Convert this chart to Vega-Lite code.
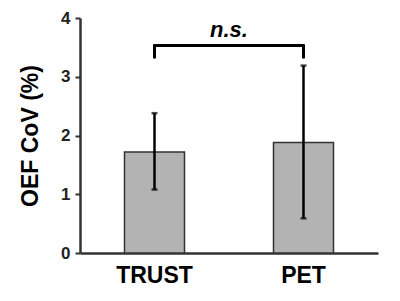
{
  "$schema": "https://vega.github.io/schema/vega-lite/v6.json",
  "autosize": {"type": "none"},
  "padding": {"left": 80, "top": 18, "right": 22, "bottom": 48},
  "width": 298,
  "height": 235,
  "background": "white",
  "config": {
    "view": {"stroke": null},
    "font": "Liberation Sans"
  },
  "datasets": {
    "bars": [
      {"group": "TRUST", "mean": 1.72, "lo": 1.08, "hi": 2.38},
      {"group": "PET", "mean": 1.88, "lo": 0.59, "hi": 3.19}
    ],
    "bracketH": [
      {"from": "TRUST", "to": "PET", "y": 3.53}
    ],
    "bracketV": [
      {"group": "TRUST", "y": 3.33, "y2": 3.53},
      {"group": "PET", "y": 3.33, "y2": 3.53}
    ],
    "label": [
      {"group": "TRUST", "y": 3.67, "text": "n.s."}
    ]
  },
  "layer": [
    {
      "data": {"name": "bars"},
      "mark": {"type": "bar", "size": 60, "color": "#b3b3b3", "stroke": "#333333", "strokeWidth": 1.5},
      "encoding": {
        "x": {
          "field": "group", "type": "nominal",
          "scale": {"domain": ["TRUST", "PET"], "paddingInner": 0, "paddingOuter": 0},
          "axis": {
            "title": null, "labelAngle": 0, "ticks": false,
            "domainColor": "#333333", "domainWidth": 2.5,
            "labelFont": "Liberation Sans", "labelFontWeight": "bold", "labelFontSize": 23,
            "labelColor": "black", "labelPadding": 11
          }
        },
        "y": {
          "field": "mean", "type": "quantitative",
          "scale": {"domain": [0, 4], "nice": false},
          "axis": {
            "title": "OEF CoV (%)", "values": [0, 1, 2, 3, 4], "format": "d", "grid": false,
            "tickSize": 5, "tickWidth": 2, "tickColor": "#333333",
            "domainColor": "#333333", "domainWidth": 2.5,
            "labelFont": "Liberation Sans", "labelFontWeight": "bold", "labelFontSize": 17,
            "labelColor": "#222222", "labelPadding": 5,
            "titleFont": "Liberation Sans", "titleFontWeight": "bold", "titleFontSize": 23,
            "titleColor": "black", "titlePadding": 18
          }
        }
      }
    },
    {
      "data": {"name": "bars"},
      "mark": {"type": "rule", "color": "black", "strokeWidth": 2.5},
      "encoding": {
        "x": {"field": "group", "type": "nominal"},
        "y": {"field": "lo", "type": "quantitative"},
        "y2": {"field": "hi"}
      }
    },
    {
      "data": {"name": "bars"},
      "mark": {"type": "tick", "color": "black", "size": 6, "thickness": 2.5, "orient": "horizontal"},
      "encoding": {
        "x": {"field": "group", "type": "nominal"},
        "y": {"field": "lo", "type": "quantitative"}
      }
    },
    {
      "data": {"name": "bars"},
      "mark": {"type": "tick", "color": "black", "size": 6, "thickness": 2.5, "orient": "horizontal"},
      "encoding": {
        "x": {"field": "group", "type": "nominal"},
        "y": {"field": "hi", "type": "quantitative"}
      }
    },
    {
      "data": {"name": "bracketH"},
      "mark": {"type": "rule", "color": "black", "strokeWidth": 3, "strokeCap": "round"},
      "encoding": {
        "x": {"field": "from", "type": "nominal"},
        "x2": {"field": "to"},
        "y": {"field": "y", "type": "quantitative"}
      }
    },
    {
      "data": {"name": "bracketV"},
      "mark": {"type": "rule", "color": "black", "strokeWidth": 3, "strokeCap": "round"},
      "encoding": {
        "x": {"field": "group", "type": "nominal"},
        "y": {"field": "y", "type": "quantitative"},
        "y2": {"field": "y2"}
      }
    },
    {
      "data": {"name": "label"},
      "mark": {"type": "text", "font": "Liberation Sans", "fontWeight": "bold", "fontStyle": "italic", "fontSize": 22, "baseline": "alphabetic", "align": "center", "color": "black"},
      "encoding": {
        "x": {"field": "group", "type": "nominal", "bandPosition": 1},
        "y": {"field": "y", "type": "quantitative"},
        "text": {"field": "text"}
      }
    }
  ]
}
